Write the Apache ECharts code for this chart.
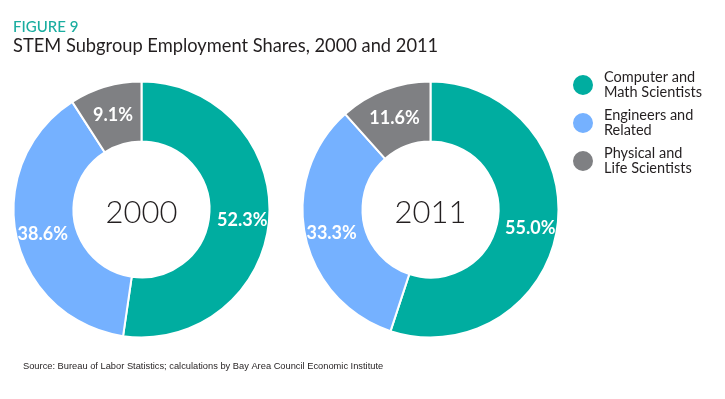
<!DOCTYPE html>
<html>
<head>
<meta charset="utf-8">
<script src="https://cdn.jsdelivr.net/npm/echarts@6/dist/echarts.min.js"></script>
<style>
html,body{margin:0;padding:0;background:#fff;}
#chart{width:725px;height:399px;}
</style>
</head>
<body>
<div id="chart"></div>
<script>
var categories = ['Computer and Math Scientists', 'Engineers and Related', 'Physical and Life Scientists'];
var years = ['2000', '2011'];
var values2000 = [52.3, 38.6, 9.1];
var values2011 = [55.0, 33.3, 11.6];
var colors = ['#00ADA0', '#75B1FF', '#7F8083'];

var FONT = 'Lato, "Open Sans", sans-serif';

function toData(vals) {
  return categories.map(function (c, i) { return { name: c, value: vals[i] }; });
}

function pieSeries(vals, center) {
  return {
    type: 'pie',
    center: center,
    radius: [68, 128],
    startAngle: 90,
    clockwise: true,
    avoidLabelOverlap: false,
    silent: true,
    itemStyle: { borderColor: '#fff', borderWidth: 2 },
    label: {
      show: true,
      position: 'inside',
      formatter: function (p) { return p.value.toFixed(1) + '%'; },
      color: '#fff',
      fontFamily: FONT,
      fontWeight: 'bold',
      fontSize: 18,
      offset: [0, 3]
    },
    labelLine: { show: false },
    data: toData(vals)
  };
}

var chart = echarts.init(document.getElementById('chart'));
chart.setOption({
  animation: false,
  color: colors,
  title: [
    { text: 'FIGURE 9', left: 13, top: 20, padding: 0,
      textStyle: { color: '#1AADA0', fontFamily: FONT, fontWeight: 500, fontSize: 15 } },
    { text: 'STEM Subgroup Employment Shares, 2000 and 2011', left: 13, top: 37, padding: 0,
      textStyle: { color: '#231F20', fontFamily: FONT, fontWeight: 'normal', fontSize: 18.3 } },
    { text: 'Source: Bureau of Labor Statistics; calculations by Bay Area Council Economic Institute', left: 23, top: 362, padding: 0,
      textStyle: { color: '#231F20', fontFamily: '"Liberation Sans", Arial, sans-serif', fontWeight: 'normal', fontSize: 9.3 } }
  ],
  legend: {
    orient: 'vertical',
    left: 571,
    top: 70,
    padding: 0,
    icon: 'circle',
    itemWidth: 28,
    itemHeight: 22,
    itemGap: 8,
    selectedMode: false,
    data: categories,
    formatter: function (n) { return n.replace(' and ', ' and\n'); },
    textStyle: { color: '#231F20', fontFamily: FONT, fontSize: 14.5, lineHeight: 15, padding: [0, 0, 0, 2] }
  },
  graphic: [
    { type: 'text', x: 141.5, y: 213, style: { text: years[0], textAlign: 'center', textVerticalAlign: 'middle',
      fill: '#231F20', font: '300 31px ' + FONT } },
    { type: 'text', x: 430.5, y: 213, style: { text: years[1], textAlign: 'center', textVerticalAlign: 'middle',
      fill: '#231F20', font: '300 31px ' + FONT } }
  ],
  series: [
    pieSeries(values2000, [141.5, 209.5]),
    pieSeries(values2011, [430.5, 209.5])
  ]
});
</script>
</body>
</html>
